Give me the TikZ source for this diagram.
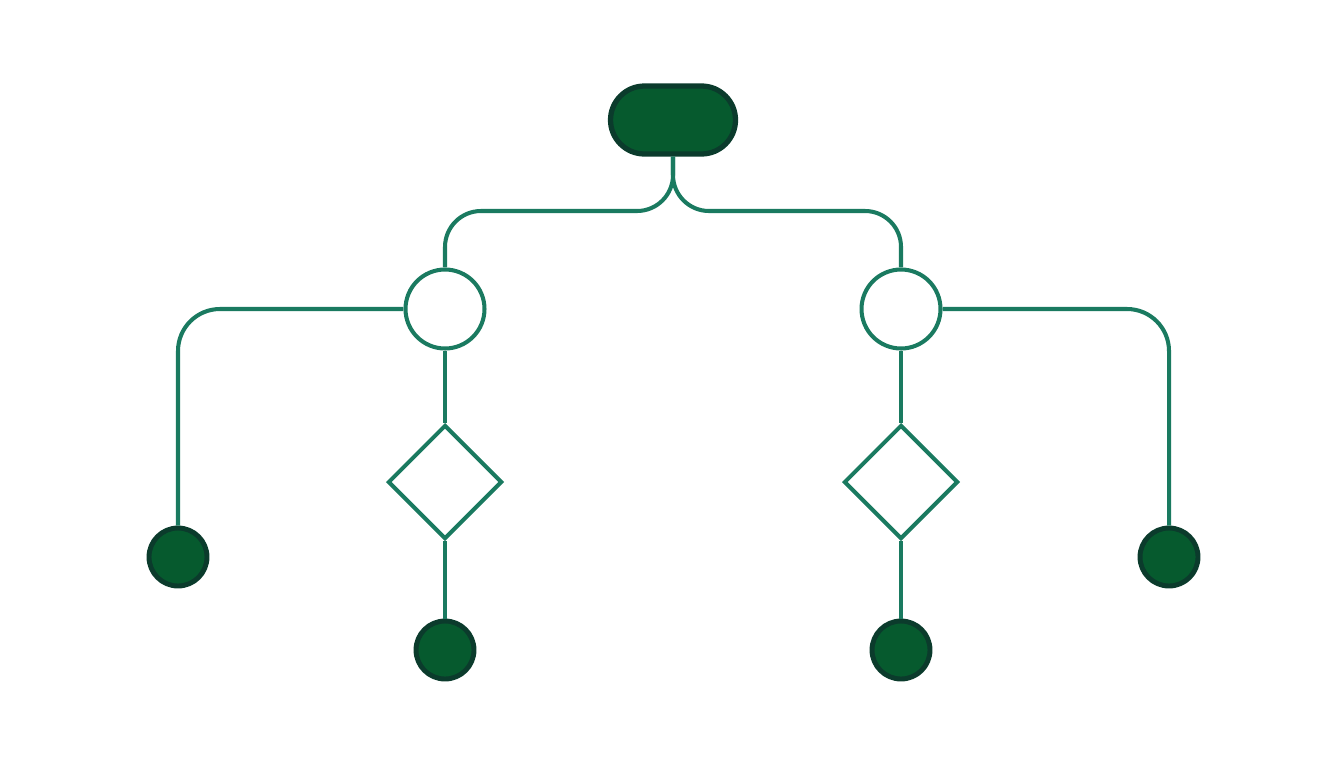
\documentclass[tikz,border=0pt]{standalone}
\usepackage{xcolor}
\usepackage{tikz}
\usetikzlibrary{shapes.geometric,shapes.misc}
\definecolor{leafGreen}{HTML}{065A2E}
\definecolor{edgeDark}{HTML}{0B3B2C}
\definecolor{linkTeal}{HTML}{1A7A60}

\begin{document}
\begin{tikzpicture}[x=0.02cm, y=-0.02cm,
        link/.style={draw=linkTeal, line width=2.3pt},
        leaf/.style={circle, fill=leafGreen, draw=edgeDark, line width=2.8pt, minimum size=1.16cm, inner sep=0pt},
        hub/.style={circle, fill=white, draw=linkTeal, line width=2.3pt, minimum size=1.58cm, inner sep=0pt},
        gate/.style={diamond, aspect=1, fill=white, draw=linkTeal, line width=2.3pt, minimum size=2.28cm, inner sep=0pt}]
    \useasboundingbox (0,0) rectangle (1344,768);
    % root
    \node[rounded rectangle, fill=leafGreen, draw=edgeDark, line width=3pt, minimum width=2.5cm, minimum height=1.36cm, inner sep=0pt] (root) at (673,120) {};
    % left branch
    \node[hub] (hubL) at (445,309) {};
    \node[gate] (gateL) at (445,482) {};
    \node[leaf] (leafLL) at (178,557) {};
    \node[leaf] (leafLM) at (445,650) {};
    % right branch
    \node[hub] (hubR) at (901,309) {};
    \node[gate] (gateR) at (901,482) {};
    \node[leaf] (leafRR) at (1169,557) {};
    \node[leaf] (leafRM) at (901,650) {};
    % links
    \draw[link, rounded corners=0.72cm] (root.south) -- (673,211) -| (hubL.north);
    \draw[link, rounded corners=0.72cm] (root.south) -- (673,211) -| (hubR.north);
    \draw[link, rounded corners=0.84cm] (hubL.west) -| (leafLL.north);
    \draw[link, rounded corners=0.84cm] (hubR.east) -| (leafRR.north);
    \draw[link] (hubL.south) -- (gateL.north);
    \draw[link] (gateL.south) -- (leafLM.north);
    \draw[link] (hubR.south) -- (gateR.north);
    \draw[link] (gateR.south) -- (leafRM.north);
\end{tikzpicture}
\end{document}
